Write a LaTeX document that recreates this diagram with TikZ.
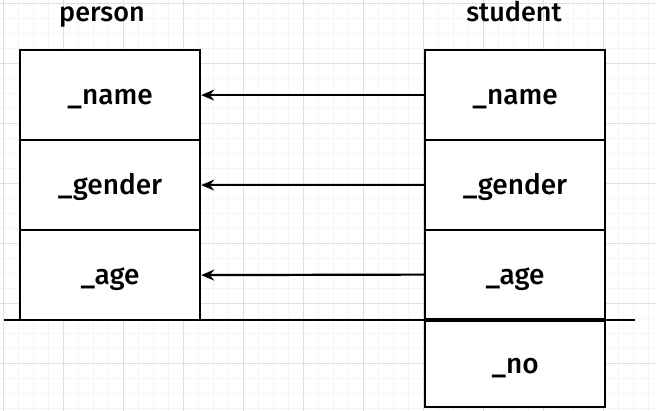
\documentclass[tikz,border=0pt]{standalone}
\usepackage{fontspec}
\setmainfont{Fira Sans Medium}
\usetikzlibrary{arrows.meta}
\begin{document}
\begin{tikzpicture}[x=1pt,y=-1pt,
 cell/.style={draw=black, line width=2.2pt, fill=white, minimum width=180pt, minimum height=90pt, inner sep=0pt, text height=20pt, text depth=1pt, font=\fontsize{28}{32}\selectfont, anchor=north west},
 title/.style={font=\fontsize{27}{32}\selectfont, anchor=base},
 link/.style={line width=2.2pt, -{Stealth[length=13pt,width=11pt]}},
 minorgrid/.style={draw=gray!8, line width=0.8pt},
 majorgrid/.style={draw=gray!25, line width=0.8pt}]
\useasboundingbox (0,0) rectangle (656,411);
\fill[white] (0,0) rectangle (656,411);
\foreach \x in {3,18,...,656} \draw[minorgrid] (\x,0) -- (\x,411);
\foreach \y in {3,18,...,411} \draw[minorgrid] (0,\y) -- (656,\y);
\foreach \x in {3,63,...,656} \draw[majorgrid] (\x,0) -- (\x,411);
\foreach \y in {3,63,...,411} \draw[majorgrid] (0,\y) -- (656,\y);
% titles
\node[title] (tp) at (102,22) {person};
\node[title] (ts) at (514,22) {student};
% person cells
\node[cell] (p1) at (19,49) {\_name};
\node[cell] (p2) at (19,139) {\_gender};
\node[cell] (p3) at (19,229) {\_age};
% student cells
\node[cell] (s1) at (424,49) {\_name};
\node[cell] (s2) at (424,139) {\_gender};
\node[cell, minimum height=89pt] (s3) at (424,229) {\_age};
\node[cell, minimum height=86pt] (s4) at (424,320) {\_no};
% base line
\coordinate (l0) at (4,320);
\coordinate (l1) at (635,320);
\draw[line width=2.2pt] (l0) -- (l1);
% arrows
\draw[link] (s1.west) -- (p1.east);
\draw[link] (s2.west) -- (p2.east);
\draw[link] (s3.west) -- (p3.east);
\end{tikzpicture}
\end{document}
